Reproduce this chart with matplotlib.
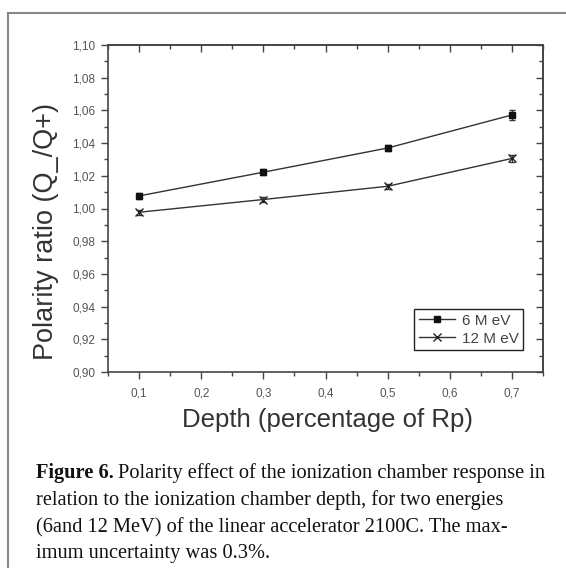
import numpy as np
import matplotlib
matplotlib.use('Agg')
import matplotlib.pyplot as plt
from matplotlib.ticker import MultipleLocator, FuncFormatter
from matplotlib.lines import Line2D

depth = [0.1, 0.3, 0.5, 0.7]
ratio_6 = [1.0077, 1.0222, 1.0370, 1.0572]
err_6 = [0.0020, 0.0018, 0.0018, 0.0028]
ratio_12 = [0.9977, 1.0055, 1.0136, 1.0306]
err_12 = [0.0015, 0.0015, 0.0015, 0.0020]
labels = ['6 M eV', '12 M eV']

plt.rcParams['font.family'] = ['Liberation Sans', 'DejaVu Sans']
fig = plt.figure(figsize=(5.66, 5.68), dpi=100)
ax = fig.add_axes([108/566, 1-372/568, 435/566, 327/568])

lc = '#333333'
ax.errorbar(depth, ratio_6, yerr=err_6, color=lc, lw=1.0, marker='s', ms=5,
			mfc='#111111', mec='#111111', capsize=2.5, elinewidth=0.8, label=labels[0])
ax.errorbar(depth, ratio_12, yerr=err_12, color=lc, lw=1.0, marker='x', ms=6,
			mec='#222222', capsize=2.5, elinewidth=0.8, label=labels[1])

ax.set_xlim(0.05, 0.75)
ax.set_ylim(0.90, 1.10)
comma = lambda fmt: FuncFormatter(lambda v, p: (fmt % v).replace('.', ','))
ax.xaxis.set_major_locator(MultipleLocator(0.1))
ax.xaxis.set_minor_locator(MultipleLocator(0.05))
ax.yaxis.set_major_locator(MultipleLocator(0.02))
ax.yaxis.set_minor_locator(MultipleLocator(0.01))
ax.xaxis.set_major_formatter(comma('%.1f'))
ax.yaxis.set_major_formatter(comma('%.2f'))
ax.tick_params(which='both', direction='out', colors='#444444', labelcolor='#555555',
			   labelsize=8.5, width=1)
ax.tick_params(which='major', length=5)
ax.tick_params(axis='x', which='major', pad=6)
ax.tick_params(axis='y', which='major', pad=4)
ax.tick_params(which='minor', length=3)
for s in ax.spines.values():
	s.set_color('#444444')
	s.set_linewidth(1.2)

# mirrored ticks pointing inward on top and right
top = ax.secondary_xaxis('top')
top.xaxis.set_major_locator(MultipleLocator(0.1))
top.xaxis.set_minor_locator(MultipleLocator(0.05))
top.tick_params(which='both', direction='in', labeltop=False, colors='#444444', width=1)
top.tick_params(which='major', length=5)
top.tick_params(which='minor', length=3)
right = ax.secondary_yaxis('right')
right.yaxis.set_major_locator(MultipleLocator(0.02))
right.yaxis.set_minor_locator(MultipleLocator(0.01))
right.tick_params(which='both', direction='in', labelright=False, colors='#444444', width=1)
right.tick_params(which='major', length=5)
right.tick_params(which='minor', length=3)
for a in (top, right):
	for s in a.spines.values():
		s.set_color('#444444')
		s.set_linewidth(1.2)

handles = [Line2D([], [], color=lc, lw=1.0, marker='s', ms=4, mfc='#111111', mec='#111111'),
		   Line2D([], [], color=lc, lw=1.0, marker='x', ms=6, mec='#222222')]
leg = ax.legend(handles, labels, loc='lower right', bbox_to_anchor=(0.954, 0.067),
				fancybox=False, edgecolor='#222222', framealpha=1, fontsize=11,
				handlelength=2.4, borderpad=0.3, labelspacing=0.25, handletextpad=0.4,
				borderaxespad=0)
leg.get_frame().set_linewidth(1.0)
for t in leg.get_texts():
	t.set_color('#444444')

fig.text(327/566, 1-420/568, 'Depth (percentage of Rp)', ha='center', va='center',
		 fontsize=18.5, color='#333333')
fig.text(46/566, 1-232/568, 'Polarity ratio (Q_/Q+)', ha='center', va='center',
		 rotation=90, fontsize=19.5, color='#333333')

# caption
cap = ['Polarity effect of the ionization chamber response in',
	   'relation to the ionization chamber depth, for two energies',
	   '(6and 12 MeV) of the linear accelerator 2100C. The max-',
	   'imum uncertainty was 0.3%.']
cap_y = [478, 505, 532, 558]
cfs = 14.7
bold = fig.text(36/566, 1-cap_y[0]/568, 'Figure 6.', ha='left', va='baseline', fontsize=cfs,
				family='Liberation Serif', weight='bold', color='#111111')
bb = bold.get_window_extent(renderer=fig.canvas.get_renderer())
fig.text(bb.x1/566 + 4/566, 1-cap_y[0]/568, cap[0], ha='left', va='baseline', fontsize=cfs,
		 family='Liberation Serif', color='#111111')
for txt, y in zip(cap[1:], cap_y[1:]):
	fig.text(36/566, 1-y/568, txt, ha='left', va='baseline', fontsize=cfs,
			 family='Liberation Serif', color='#111111')

# frame around the figure
fig.add_artist(Line2D([8/566, 8/566], [0, 1-13/568], color='#888888', lw=1.5, transform=fig.transFigure))
fig.add_artist(Line2D([8/566, 1], [1-13/568, 1-13/568], color='#888888', lw=1.5, transform=fig.transFigure))

plt.savefig('out.png', dpi=100)
